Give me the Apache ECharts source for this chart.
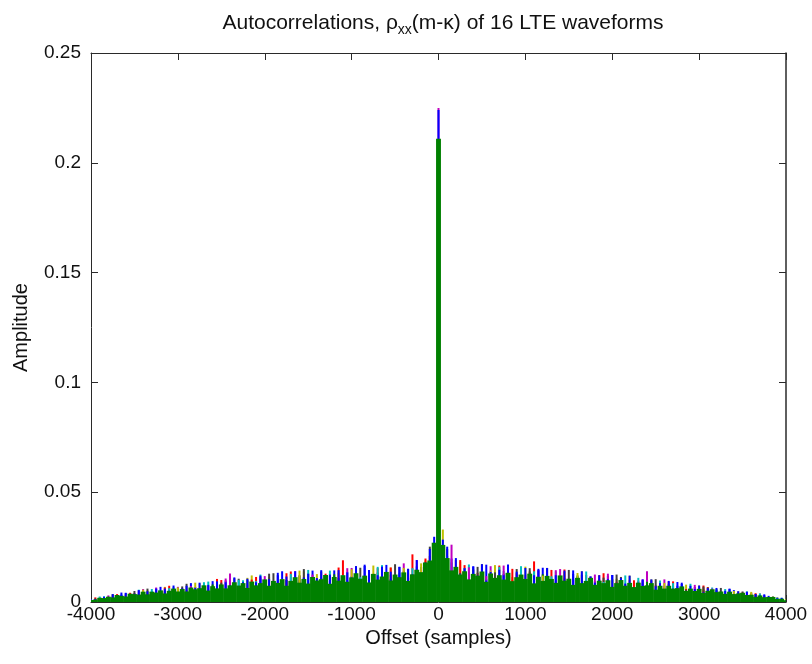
<!DOCTYPE html>
<html>
<head>
<meta charset="utf-8">
<title>Autocorrelations of 16 LTE waveforms</title>
<script src="https://cdn.jsdelivr.net/npm/echarts@6/dist/echarts.min.js"></script>
<style>
  html, body { margin: 0; padding: 0; background: #ffffff; }
  #chart { width: 812px; height: 664px; }
</style>
</head>
<body>
<div id="chart"></div>
<script>
// Lag offsets (samples) at which each waveform's autocorrelation is plotted.
const LAGS_FINE = [
  -4000,-3950,-3900,-3850,-3800,-3750,-3700,-3650,-3600,-3550,
  -3500,-3450,-3400,-3350,-3300,-3250,-3200,-3150,-3100,-3050,
  -3000,-2950,-2900,-2850,-2800,-2750,-2700,-2650,-2600,-2550,
  -2500,-2450,-2400,-2350,-2300,-2250,-2200,-2150,-2100,-2050,
  -2000,-1950,-1900,-1850,-1800,-1750,-1700,-1650,-1600,-1550,
  -1500,-1450,-1400,-1350,-1300,-1250,-1200,-1150,-1100,-1050,
  -1000,-950,-900,-850,-800,-750,-700,-650,-600,-550,
  -500,-450,-400,-350,-300,-250,-200,-150,-100,-50,
  0,
  50,100,150,200,250,300,350,400,450,500,
  550,600,650,700,750,800,850,900,950,1000,
  1050,1100,1150,1200,1250,1300,1350,1400,1450,1500,
  1550,1600,1650,1700,1750,1800,1850,1900,1950,2000,
  2050,2100,2150,2200,2250,2300,2350,2400,2450,2500,
  2550,2600,2650,2700,2750,2800,2850,2900,2950,3000,
  3050,3100,3150,3200,3250,3300,3350,3400,3450,3500,
  3550,3600,3650,3700,3750,3800,3850,3900,3950,4000
];
const LAGS_G0 = [
  -4000,-3800,-3600,-3400,-3200,-3000,-2800,-2600,-2400,-2200,
  -2000,-1800,-1600,-1400,-1200,-1000,-800,-600,-400,-200,
  0,
  200,400,600,800,1000,1200,1400,1600,1800,2000,
  2200,2400,2600,2800,3000,3200,3400,3600,3800,4000
];
const LAGS_G50 = [
  -3950,-3750,-3550,-3350,-3150,-2950,-2750,-2550,-2350,-2150,
  -1950,-1750,-1550,-1350,-1150,-950,-750,-550,-350,-150,
  0,
  50,250,450,650,850,1050,1250,1450,1650,1850,
  2050,2250,2450,2650,2850,3050,3250,3450,3650,3850
];
const LAGS_G100 = [
  -3900,-3700,-3500,-3300,-3100,-2900,-2700,-2500,-2300,-2100,
  -1900,-1700,-1500,-1300,-1100,-900,-700,-500,-300,-100,
  0,
  100,300,500,700,900,1100,1300,1500,1700,1900,
  2100,2300,2500,2700,2900,3100,3300,3500,3700,3900
];
const LAGS_G150 = [
  -3850,-3650,-3450,-3250,-3050,-2850,-2650,-2450,-2250,-2050,
  -1850,-1650,-1450,-1250,-1050,-850,-650,-450,-250,-50,
  0,
  150,350,550,750,950,1150,1350,1550,1750,1950,
  2150,2350,2550,2750,2950,3150,3350,3550,3750,3950
];

// Autocorrelation amplitude of each waveform at the lags above.
const WF1 = [0.0011,0.0020,0.0042,0.0032,0.0069,0.0054,0.0041,0.0095,0.0071,0.0101,
  0.0069,0.0140,0.0099,0.0086,0.0144,0.0118,0.0083,0.0169,0.0108,0.0160,
  0.188,
  0.0144,0.0162,0.0091,0.0146,0.0105,0.0156,0.0069,0.0116,0.0094,0.0123,
  0.0069,0.0092,0.0072,0.0088,0.0042,0.0053,0.0054,0.0030,0.0028,0.0009];
const WF2 = [0.0013,0.0025,0.0030,0.0044,0.0047,0.0059,0.0056,0.0074,0.0069,0.0088,
  0.0079,0.0100,0.0089,0.0110,0.0097,0.0119,0.0102,0.0124,0.0110,0.0153,
  0.176,
  0.0230,0.0125,0.0106,0.0123,0.0101,0.0117,0.0095,0.0108,0.0086,0.0097,
  0.0077,0.0086,0.0066,0.0070,0.0053,0.0055,0.0041,0.0041,0.0026,0.0020];
const WF3 = [0.0017,0.0036,0.0040,0.0037,0.0074,0.0054,0.0079,0.0100,0.0062,0.0114,
  0.0096,0.0139,0.0090,0.0129,0.0190,0.0094,0.0154,0.0119,0.0217,0.0210,
  0.182,
  0.0200,0.0168,0.0106,0.0166,0.0131,0.0185,0.0146,0.0101,0.0123,0.0131,
  0.0071,0.0097,0.0076,0.0094,0.0051,0.0068,0.0044,0.0044,0.0038,0.0015];
const WF4 = [0.0026,0.0033,0.0056,0.0041,0.0067,0.0059,0.0093,0.0057,0.0099,0.0125,
  0.0087,0.0108,0.0086,0.0143,0.0135,0.0101,0.0168,0.0133,0.0132,0.0230,
  0.179,
  0.0180,0.0171,0.0105,0.0141,0.0163,0.0085,0.0139,0.0105,0.0116,0.0079,
  0.0121,0.0086,0.0098,0.0063,0.0047,0.0066,0.0052,0.0049,0.0025,0.0019];
const WF5 = [0.0008,0.0030,0.0032,0.0059,0.0037,0.0069,0.0068,0.0046,0.0130,0.0078,
  0.0118,0.0078,0.0121,0.0104,0.0078,0.0155,0.0127,0.0104,0.0176,0.0144,
  0.225,
  0.0190,0.0101,0.0163,0.0114,0.0124,0.0084,0.0150,0.0094,0.0125,0.0059,
  0.0101,0.0140,0.0103,0.0054,0.0069,0.0048,0.0032,0.0042,0.0023,0.0010];
const WF6 = [0.0014,0.0036,0.0029,0.0052,0.0069,0.0050,0.0084,0.0078,0.0060,0.0121,
  0.0114,0.0084,0.0139,0.0110,0.0133,0.0088,0.0166,0.0157,0.0116,0.0189,
  0.185,
  0.0330,0.0184,0.0106,0.0168,0.0113,0.0141,0.0083,0.0137,0.0140,0.0082,
  0.0106,0.0086,0.0103,0.0052,0.0079,0.0061,0.0041,0.0049,0.0030,0.0026];
const WF7 = [0.0021,0.0024,0.0050,0.0049,0.0040,0.0083,0.0065,0.0088,0.0106,0.0071,
  0.0131,0.0091,0.0129,0.0105,0.0085,0.0156,0.0134,0.0172,0.0112,0.0252,
  0.189,
  0.0242,0.0119,0.0172,0.0115,0.0150,0.0122,0.0088,0.0146,0.0091,0.0111,
  0.0114,0.0062,0.0104,0.0072,0.0058,0.0066,0.0037,0.0048,0.0030,0.0021];
const WF8 = [0.0020,0.0043,0.0037,0.0061,0.0058,0.0086,0.0056,0.0098,0.0081,0.0106,
  0.0133,0.0076,0.0143,0.0119,0.0098,0.0164,0.0116,0.0160,0.0162,0.0243,
  0.181,
  0.0198,0.0110,0.0170,0.0128,0.0113,0.0151,0.0093,0.0144,0.0100,0.0119,
  0.0065,0.0099,0.0070,0.0091,0.0068,0.0044,0.0059,0.0034,0.0031,0.0013];
const WF9 = [0.0009,0.0024,0.0028,0.0047,0.0042,0.0063,0.0054,0.0080,0.0067,0.0097,
  0.0083,0.0094,0.0121,0.0092,0.0126,0.0099,0.0133,0.0104,0.0142,0.0128,
  0.197,
  0.0136,0.0148,0.0104,0.0133,0.0099,0.0126,0.0092,0.0121,0.0083,0.0103,
  0.0074,0.0092,0.0061,0.0071,0.0048,0.0058,0.0036,0.0038,0.0020,0.0011];
const WF10 = [0.0021,0.0022,0.0042,0.0033,0.0066,0.0062,0.0053,0.0105,0.0077,0.0102,
  0.0064,0.0131,0.0111,0.0093,0.0157,0.0131,0.0090,0.0157,0.0130,0.0198,
  0.174,
  0.0216,0.0191,0.0133,0.0097,0.0151,0.0135,0.0107,0.0148,0.0076,0.0122,
  0.0091,0.0099,0.0066,0.0093,0.0059,0.0075,0.0038,0.0043,0.0040,0.0020];
const WF11 = [0.0025,0.0030,0.0032,0.0059,0.0063,0.0045,0.0090,0.0072,0.0101,0.0095,
  0.0076,0.0128,0.0146,0.0094,0.0122,0.0113,0.0160,0.0092,0.0154,0.0189,
  0.192,
  0.0210,0.0154,0.0119,0.0160,0.0094,0.0140,0.0117,0.0090,0.0139,0.0091,
  0.0100,0.0110,0.0064,0.0086,0.0083,0.0051,0.0059,0.0032,0.0039,0.0019];
const WF12 = [0.0022,0.0026,0.0052,0.0066,0.0052,0.0073,0.0074,0.0107,0.0068,0.0115,
  0.0092,0.0140,0.0125,0.0095,0.0154,0.0120,0.0155,0.0100,0.0191,0.0240,
  0.187,
  0.0261,0.0158,0.0118,0.0166,0.0100,0.0145,0.0145,0.0100,0.0116,0.0129,
  0.0079,0.0103,0.0078,0.0056,0.0078,0.0061,0.0042,0.0046,0.0028,0.0014];
const WF13 = [0.0012,0.0018,0.0035,0.0056,0.0042,0.0066,0.0088,0.0057,0.0076,0.0110,
  0.0064,0.0104,0.0143,0.0127,0.0096,0.0149,0.0133,0.0091,0.0155,0.0176,
  0.183,
  0.0192,0.0122,0.0143,0.0089,0.0161,0.0120,0.0098,0.0132,0.0078,0.0103,
  0.0120,0.0067,0.0087,0.0061,0.0075,0.0037,0.0050,0.0046,0.0020,0.0012];
const WF14 = [0.0016,0.0034,0.0030,0.0061,0.0050,0.0071,0.0049,0.0086,0.0108,0.0079,
  0.0129,0.0100,0.0150,0.0139,0.0109,0.0163,0.0128,0.0105,0.0151,0.0162,
  0.178,
  0.0230,0.0132,0.0160,0.0135,0.0088,0.0154,0.0155,0.0091,0.0124,0.0102,
  0.0125,0.0068,0.0098,0.0081,0.0056,0.0070,0.0064,0.0039,0.0036,0.0022];
const WF15 = [
  0.0012,0.0013,0.0011,0.0024,0.0023,0.0036,0.0021,0.0033,0.0040,0.0025,
  0.0038,0.0054,0.0034,0.0049,0.0042,0.0061,0.0032,0.0061,0.0051,0.0075,
  0.0042,0.0062,0.0074,0.0043,0.0065,0.0088,0.0054,0.0078,0.0065,0.0094,
  0.0048,0.0090,0.0076,0.0112,0.0062,0.0090,0.0106,0.0060,0.0090,0.0120,
  0.0074,0.0104,0.0086,0.0122,0.0062,0.0116,0.0096,0.0140,0.0077,0.0111,
  0.0129,0.0074,0.0109,0.0145,0.0088,0.0125,0.0102,0.0145,0.0073,0.0135,
  0.0112,0.0163,0.0088,0.0170,0.0146,0.0083,0.0122,0.0161,0.0098,0.0138,
  0.0112,0.0160,0.0081,0.0151,0.0126,0.0191,0.0112,0.0180,0.0242,0.0297,
  0.224,
  0.0284,0.0252,0.0126,0.0200,0.0125,0.0154,0.0089,0.0162,0.0120,0.0172,
  0.0098,0.0137,0.0077,0.0147,0.0122,0.0171,0.0088,0.0138,0.0106,0.0155,
  0.0080,0.0122,0.0145,0.0096,0.0155,0.0070,0.0122,0.0104,0.0143,0.0084,
  0.0128,0.0105,0.0140,0.0075,0.0116,0.0088,0.0122,0.0061,0.0104,0.0123,
  0.0077,0.0109,0.0084,0.0120,0.0059,0.0088,0.0103,0.0063,0.0103,0.0072,
  0.0086,0.0046,0.0096,0.0061,0.0074,0.0082,0.0046,0.0074,0.0059,0.0075,
  0.0044,0.0063,0.0047,0.0064,0.0033,0.0051,0.0061,0.0036,0.0049,0.0036,
  0.0046,0.0025,0.0036,0.0030,0.0035,0.0021,0.0024,0.0017,0.0019,0.0008
];
const WF16 = [
  0.0009,0.0011,0.0019,0.0018,0.0024,0.0021,0.0032,0.0028,0.0025,0.0038,
  0.0036,0.0034,0.0047,0.0035,0.0047,0.0043,0.0053,0.0039,0.0051,0.0061,
  0.0048,0.0059,0.0048,0.0066,0.0058,0.0063,0.0076,0.0052,0.0072,0.0062,
  0.0080,0.0062,0.0076,0.0090,0.0075,0.0086,0.0064,0.0093,0.0076,0.0086,
  0.0103,0.0074,0.0096,0.0087,0.0104,0.0074,0.0096,0.0113,0.0088,0.0105,
  0.0084,0.0114,0.0098,0.0104,0.0123,0.0083,0.0114,0.0097,0.0122,0.0092,
  0.0112,0.0131,0.0106,0.0120,0.0089,0.0128,0.0102,0.0116,0.0137,0.0098,
  0.0125,0.0113,0.0135,0.0096,0.0126,0.0147,0.0136,0.0180,0.0189,0.0270,
  0.211,
  0.0260,0.0200,0.0144,0.0160,0.0125,0.0140,0.0103,0.0128,0.0120,0.0139,
  0.0092,0.0130,0.0110,0.0122,0.0102,0.0133,0.0095,0.0113,0.0125,0.0105,
  0.0129,0.0085,0.0115,0.0096,0.0119,0.0105,0.0087,0.0121,0.0097,0.0106,
  0.0078,0.0110,0.0086,0.0096,0.0110,0.0078,0.0097,0.0086,0.0099,0.0069,
  0.0086,0.0100,0.0074,0.0087,0.0068,0.0088,0.0073,0.0076,0.0086,0.0056,
  0.0074,0.0061,0.0074,0.0061,0.0063,0.0071,0.0050,0.0061,0.0050,0.0060,
  0.0041,0.0051,0.0058,0.0045,0.0048,0.0037,0.0047,0.0036,0.0039,0.0042,
  0.0032,0.0033,0.0023,0.0030,0.0022,0.0023,0.0023,0.0014,0.0015,0.0008
];

const WAVEFORM_LAGS = [LAGS_G0, LAGS_G50, LAGS_G100, LAGS_G150, LAGS_G0, LAGS_G50, LAGS_G100,
  LAGS_G150, LAGS_G0, LAGS_G50, LAGS_G100, LAGS_G150, LAGS_G0, LAGS_G50, LAGS_FINE, LAGS_FINE];
const WAVEFORM_VALUES = [WF1, WF2, WF3, WF4, WF5, WF6, WF7, WF8, WF9, WF10, WF11, WF12, WF13, WF14, WF15, WF16];

const X_TICKS = [-4000, -3000, -2000, -1000, 0, 1000, 2000, 3000, 4000];
const Y_TICKS = [0, 0.05, 0.1, 0.15, 0.2, 0.25];

// Default plotting colour cycle: blue, green, red, cyan, magenta, olive, dark grey.
const COLOR_ORDER = ['#0000ff', '#008000', '#ff0000', '#00bfbf', '#bf00bf', '#bfbf00', '#404040'];

const FONT = '"Liberation Sans", Arial, Helvetica, sans-serif';
const INK = '#111111';
const FRAME = '#2a2a2a';

// Each sample is drawn as a vertical stroke from zero up to its amplitude.
function strokeRenderer(widthPx) {
  return function (params, api) {
    const lag = api.value(0);
    const top = api.coord([lag, api.value(1)]);
    const base = api.coord([lag, 0]);
    return {
      type: 'rect',
      shape: { x: top[0] - widthPx / 2, y: top[1], width: widthPx, height: base[1] - top[1] },
      style: { fill: api.visual('color') },
      silent: true
    };
  };
}

const series = WAVEFORM_VALUES.map(function (values, i) {
  const lags = WAVEFORM_LAGS[i];
  const n = Math.min(lags.length, values.length);
  const data = [];
  for (let k = 0; k < n; k++) data.push([lags[k], values[k]]);
  const last = i === WAVEFORM_VALUES.length - 1;
  return {
    name: 'Waveform ' + (i + 1),
    type: 'custom',
    xAxisIndex: 0,
    yAxisIndex: 0,
    color: COLOR_ORDER[i % COLOR_ORDER.length],
    renderItem: strokeRenderer(last ? 4.9 : 2),
    encode: { x: 0, y: 1 },
    data: data,
    clip: true,
    silent: true,
    animation: false
  };
});

const tickLabel = { color: INK, fontFamily: FONT, fontSize: 19, formatter: function (v) { return String(v); } };
const nameStyle = { color: INK, fontFamily: FONT, fontSize: 20 };

const chart = echarts.init(document.getElementById('chart'), null, { renderer: 'canvas' });
chart.setOption({
  backgroundColor: '#ffffff',
  animation: false,
  title: {
    text: '{t|Autocorrelations, ρ}{s|xx}{t|(m-κ) of 16 LTE waveforms}',
    left: 438,
    top: 4,
    textAlign: 'center',
    textStyle: {
      fontWeight: 'normal',
      rich: {
        t: { fontFamily: FONT, fontSize: 21, fontWeight: 'normal', color: INK, lineHeight: 28, verticalAlign: 'middle' },
        s: { fontFamily: FONT, fontSize: 14, fontWeight: 'normal', color: INK, lineHeight: 14, verticalAlign: 'bottom' }
      }
    }
  },
  grid: { left: 91, right: 26, top: 53, bottom: 62, containLabel: false },
  xAxis: [
    {
      type: 'value', position: 'bottom', min: X_TICKS[0], max: X_TICKS[X_TICKS.length - 1], interval: 1000,
      name: 'Offset (samples)', nameLocation: 'middle', nameGap: 25,
      nameTextStyle: nameStyle,
      axisLine: { show: true, onZero: false, lineStyle: { color: FRAME, width: 1 } },
      axisTick: { show: true, inside: true, length: 7, lineStyle: { color: FRAME } },
      axisLabel: Object.assign({ margin: 3 }, tickLabel),
      splitLine: { show: false }
    },
    {
      type: 'value', position: 'top', min: X_TICKS[0], max: X_TICKS[X_TICKS.length - 1], interval: 1000,
      axisLine: { show: true, onZero: false, lineStyle: { color: FRAME, width: 1 } },
      axisTick: { show: true, inside: true, length: 7, lineStyle: { color: FRAME } },
      axisLabel: { show: false },
      splitLine: { show: false }
    }
  ],
  yAxis: [
    {
      type: 'value', position: 'left', min: Y_TICKS[0], max: Y_TICKS[Y_TICKS.length - 1], interval: 0.05,
      name: 'Amplitude', nameLocation: 'middle', nameGap: 60,
      nameTextStyle: nameStyle,
      axisLine: { show: true, onZero: false, lineStyle: { color: FRAME, width: 1 } },
      axisTick: { show: true, inside: true, length: 7, lineStyle: { color: FRAME } },
      axisLabel: Object.assign({ margin: 10 }, tickLabel),
      splitLine: { show: false }
    },
    {
      type: 'value', position: 'right', min: Y_TICKS[0], max: Y_TICKS[Y_TICKS.length - 1], interval: 0.05,
      axisLine: { show: true, onZero: false, lineStyle: { color: FRAME, width: 1.5 } },
      axisTick: { show: true, inside: true, length: 7, lineStyle: { color: FRAME } },
      axisLabel: { show: false },
      splitLine: { show: false }
    }
  ],
  tooltip: { show: false },
  series: series
});
</script>
</body>
</html>
